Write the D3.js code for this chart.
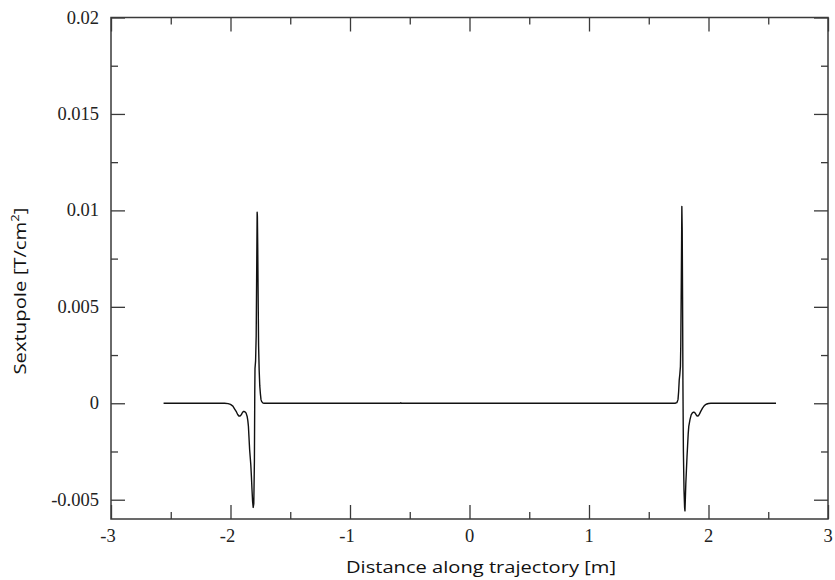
<!DOCTYPE html>
<html>
<head>
<meta charset="utf-8">
<script src="https://cdn.jsdelivr.net/npm/d3@7"></script>
<style>
  html, body { margin: 0; padding: 0; background: #fff; }
  svg { display: block; }
</style>
</head>
<body>
<svg id="chart" width="835" height="580"></svg>
<script>
// Sextupole component along the trajectory, sampled around the two magnet ends
const posLeft = [-2.56, -2.2, -2.05, -2.02, -2.0, -1.98, -1.965, -1.95, -1.94, -1.93, -1.92, -1.91, -1.90, -1.89, -1.88, -1.87, -1.86, -1.855, -1.85, -1.845, -1.84, -1.835, -1.83, -1.825, -1.82, -1.815, -1.81, -1.805, -1.80, -1.797, -1.795, -1.79, -1.785, -1.78, -1.777, -1.775, -1.772, -1.768, -1.765, -1.76, -1.755, -1.75, -1.745, -1.74, -1.73, -1.72];
const valLeft = [0, 0, 0, -0.00002, -0.00006, -0.00015, -0.0003, -0.00045, -0.00058, -0.00066, -0.00066, -0.0006, -0.00048, -0.00042, -0.00044, -0.0005, -0.0007, -0.0009, -0.0012, -0.0018, -0.0024, -0.0028, -0.0032, -0.0038, -0.0045, -0.0051, -0.0054, -0.0052, -0.0030, 0.0005, 0.0018, 0.0022, 0.0035, 0.0075, 0.0099, 0.0097, 0.0080, 0.0050, 0.0030, 0.0017, 0.0009, 0.0005, 0.0002, 0.0001, 0.00002, 0];

const posMid = [-1.70, -1.0, -0.58, -0.575, -0.57, 0.0, 1.0, 1.70];
const valMid = [0, 0, 0, 0.00003, 0, 0, 0, 0];

const posRight = [1.72, 1.735, 1.74, 1.745, 1.75, 1.755, 1.76, 1.765, 1.768, 1.772, 1.775, 1.777, 1.78, 1.783, 1.786, 1.79, 1.795, 1.80, 1.803, 1.806, 1.81, 1.815, 1.82, 1.825, 1.83, 1.835, 1.845, 1.855, 1.865, 1.875, 1.885, 1.895, 1.905, 1.915, 1.925, 1.935, 1.95, 1.965, 1.98, 2.0, 2.02, 2.2, 2.565];
const valRight = [0, 0.00003, 0.0001, 0.0002, 0.0006, 0.0012, 0.0015, 0.0019, 0.0030, 0.0060, 0.0085, 0.0102, 0.0090, 0.0055, 0.0010, -0.0025, -0.0045, -0.0054, -0.00558, -0.0050, -0.0042, -0.0035, -0.0028, -0.0022, -0.0016, -0.0012, -0.00085, -0.0006, -0.0005, -0.00046, -0.00048, -0.00058, -0.00066, -0.00065, -0.00055, -0.00042, -0.00025, -0.00012, -0.00005, -0.00001, 0, 0, 0];

const xTicksMajor = [-3, -2, -1, 0, 1, 2, 3];
const xTicksMinor = [-2.5, -1.5, -0.5, 0.5, 1.5, 2.5];
const yTicksMajor = [-0.005, 0, 0.005, 0.01, 0.015, 0.02];
const yTicksMinor = [-0.0025, 0.0025, 0.0075, 0.0125, 0.0175];
const yTickLabels = ["-0.005", "0", "0.005", "0.01", "0.015", "0.02"];
const xTickLabels = ["-3", "-2", "-1", "0", "1", "2", "3"];

const positions = posLeft.concat(posMid, posRight);
const values = valLeft.concat(valMid, valRight);
const points = positions.map((p, i) => [p, values[i]]);

const svg = d3.select("#chart");
const plotL = 111, plotR = 828, plotT = 17.5, plotB = 519;

const x = d3.scaleLinear().domain([-3, 3]).range([plotL, plotR]);
const y = d3.scaleLinear().domain([-0.006, 0.02]).range([plotB, plotT]);

const axisColor = "#3a3a3a";
const majorLen = 14, minorLen = 7;
const serif = '"Liberation Serif", "Times New Roman", serif';
const sans = '"Open Sans", "Noto Sans", sans-serif';

// Frame
svg.append("rect")
  .attr("x", plotL).attr("y", plotT)
  .attr("width", plotR - plotL).attr("height", plotB - plotT)
  .attr("fill", "none").attr("stroke", axisColor).attr("stroke-width", 1.5);

// Inward ticks on all four sides
function addAxis(axisGen, transform, ticks, len) {
  const g = svg.append("g").attr("transform", transform)
    .call(axisGen.tickValues(ticks).tickSize(-len).tickFormat(""));
  g.select(".domain").remove();
  g.selectAll(".tick text").remove();
  g.selectAll(".tick line").attr("stroke", axisColor).attr("stroke-width", 1.3);
  return g;
}
addAxis(d3.axisBottom(x), `translate(0,${plotB})`, xTicksMajor, majorLen);
addAxis(d3.axisBottom(x), `translate(0,${plotB})`, xTicksMinor, minorLen);
addAxis(d3.axisTop(x), `translate(0,${plotT})`, xTicksMajor, majorLen);
addAxis(d3.axisTop(x), `translate(0,${plotT})`, xTicksMinor, minorLen);
addAxis(d3.axisLeft(y), `translate(${plotL},0)`, yTicksMajor, majorLen);
addAxis(d3.axisLeft(y), `translate(${plotL},0)`, yTicksMinor, minorLen);
addAxis(d3.axisRight(y), `translate(${plotR},0)`, yTicksMajor, majorLen);
addAxis(d3.axisRight(y), `translate(${plotR},0)`, yTicksMinor, minorLen);

// Tick labels
svg.append("g").selectAll("text").data(xTicksMajor).join("text")
  .attr("x", d => x(d) - (d < 0 ? 3 : 0)).attr("y", 542)
  .attr("text-anchor", "middle")
  .style("font-family", serif).style("font-size", "18.5px").style("fill", "#222")
  .text((d, i) => xTickLabels[i]);

svg.append("g").selectAll("text").data(yTicksMajor).join("text")
  .attr("x", 99).attr("y", d => y(d) + 6)
  .attr("text-anchor", "end")
  .style("font-family", serif).style("font-size", "18.5px").style("fill", "#222")
  .text((d, i) => yTickLabels[i]);

// Axis titles
svg.append("text")
  .attr("x", 481).attr("y", 573)
  .attr("text-anchor", "middle")
  .attr("textLength", 270).attr("lengthAdjust", "spacingAndGlyphs")
  .style("font-family", sans).style("font-size", "17px").style("fill", "#111")
  .text("Distance along trajectory [m]");

const yTitle = svg.append("text")
  .attr("transform", "translate(26,291) rotate(-90)")
  .attr("text-anchor", "middle")
  .attr("textLength", 167).attr("lengthAdjust", "spacingAndGlyphs")
  .style("font-family", sans).style("font-size", "17px").style("fill", "#111");
yTitle.append("tspan").text("Sextupole [T/cm");
yTitle.append("tspan").style("font-size", "11px").attr("dy", -7).text("2");
yTitle.append("tspan").attr("dy", 7).text("]");

// Field curve
const line = d3.line().x(d => x(d[0])).y(d => y(d[1]));
svg.append("path")
  .datum(points)
  .attr("d", line)
  .attr("fill", "none")
  .attr("stroke", "#111")
  .attr("stroke-width", 1.4)
  .attr("stroke-linejoin", "round");
</script>
</body>
</html>
